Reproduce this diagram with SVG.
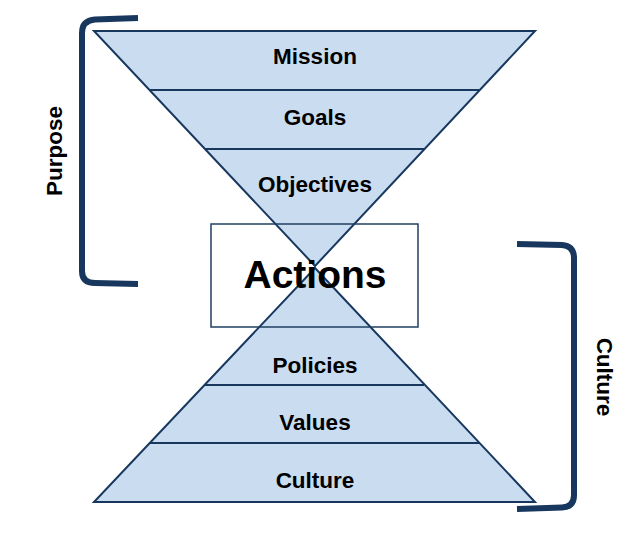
<svg xmlns="http://www.w3.org/2000/svg" width="639" height="538" viewBox="0 0 639 538">
<style>
.tri{fill:#cadcf0;stroke:#17375e;stroke-width:2;stroke-linejoin:miter}
.div{stroke:#17375e;stroke-width:2}
.lbl{font-family:"Liberation Sans",Arial,sans-serif;font-weight:bold;font-size:22.5px;fill:#000;text-anchor:middle}
.br{fill:none;stroke:#17375e;stroke-width:6;stroke-linecap:butt}
</style>
<rect width="639" height="538" fill="#fff"/>
<g id="top-funnel">
<polygon class="tri" points="94,31 535,31 315,266"/>
<line class="div" x1="150" y1="90" x2="480" y2="90"/>
<line class="div" x1="205" y1="149" x2="424" y2="149"/>
</g>
<g id="bottom-funnel">
<polygon class="tri" points="94,502 535,502 315,268"/>
<line class="div" x1="150" y1="443" x2="480" y2="443"/>
<line class="div" x1="205" y1="385" x2="424" y2="385"/>
</g>
<g id="mission"><text class="lbl" x="315" y="63.5">Mission</text></g>
<g id="goals"><text class="lbl" x="315" y="124.5">Goals</text></g>
<g id="objectives"><text class="lbl" x="315" y="191.5">Objectives</text></g>
<g id="actions">
<rect x="211" y="224" width="207" height="103" fill="none" stroke="#1f3f60" stroke-width="1.5"/>
<text x="315" y="288" font-family="Liberation Sans, Arial, sans-serif" font-weight="bold" font-size="39" text-anchor="middle">Actions</text>
</g>
<g id="policies"><text class="lbl" x="315" y="372.5">Policies</text></g>
<g id="values"><text class="lbl" x="315" y="429.5">Values</text></g>
<g id="culture"><text class="lbl" x="315" y="487.5">Culture</text></g>
<g id="purpose-bracket">
<path class="br" d="M138,18 L95,19.5 Q82,20.5 82,33 L82,271 Q82,283 95,283 L138,284"/>
<text class="lbl" transform="translate(62,151) rotate(-90)" x="0" y="0" font-size="21">Purpose</text>
</g>
<g id="culture-bracket">
<path class="br" d="M517,244 L562,245 Q574,246 574,258 L574,495 Q574,507 562,507.5 L517,509"/>
<text class="lbl" transform="translate(597,377) rotate(90)" x="0" y="0">Culture</text>
</g>
</svg>
